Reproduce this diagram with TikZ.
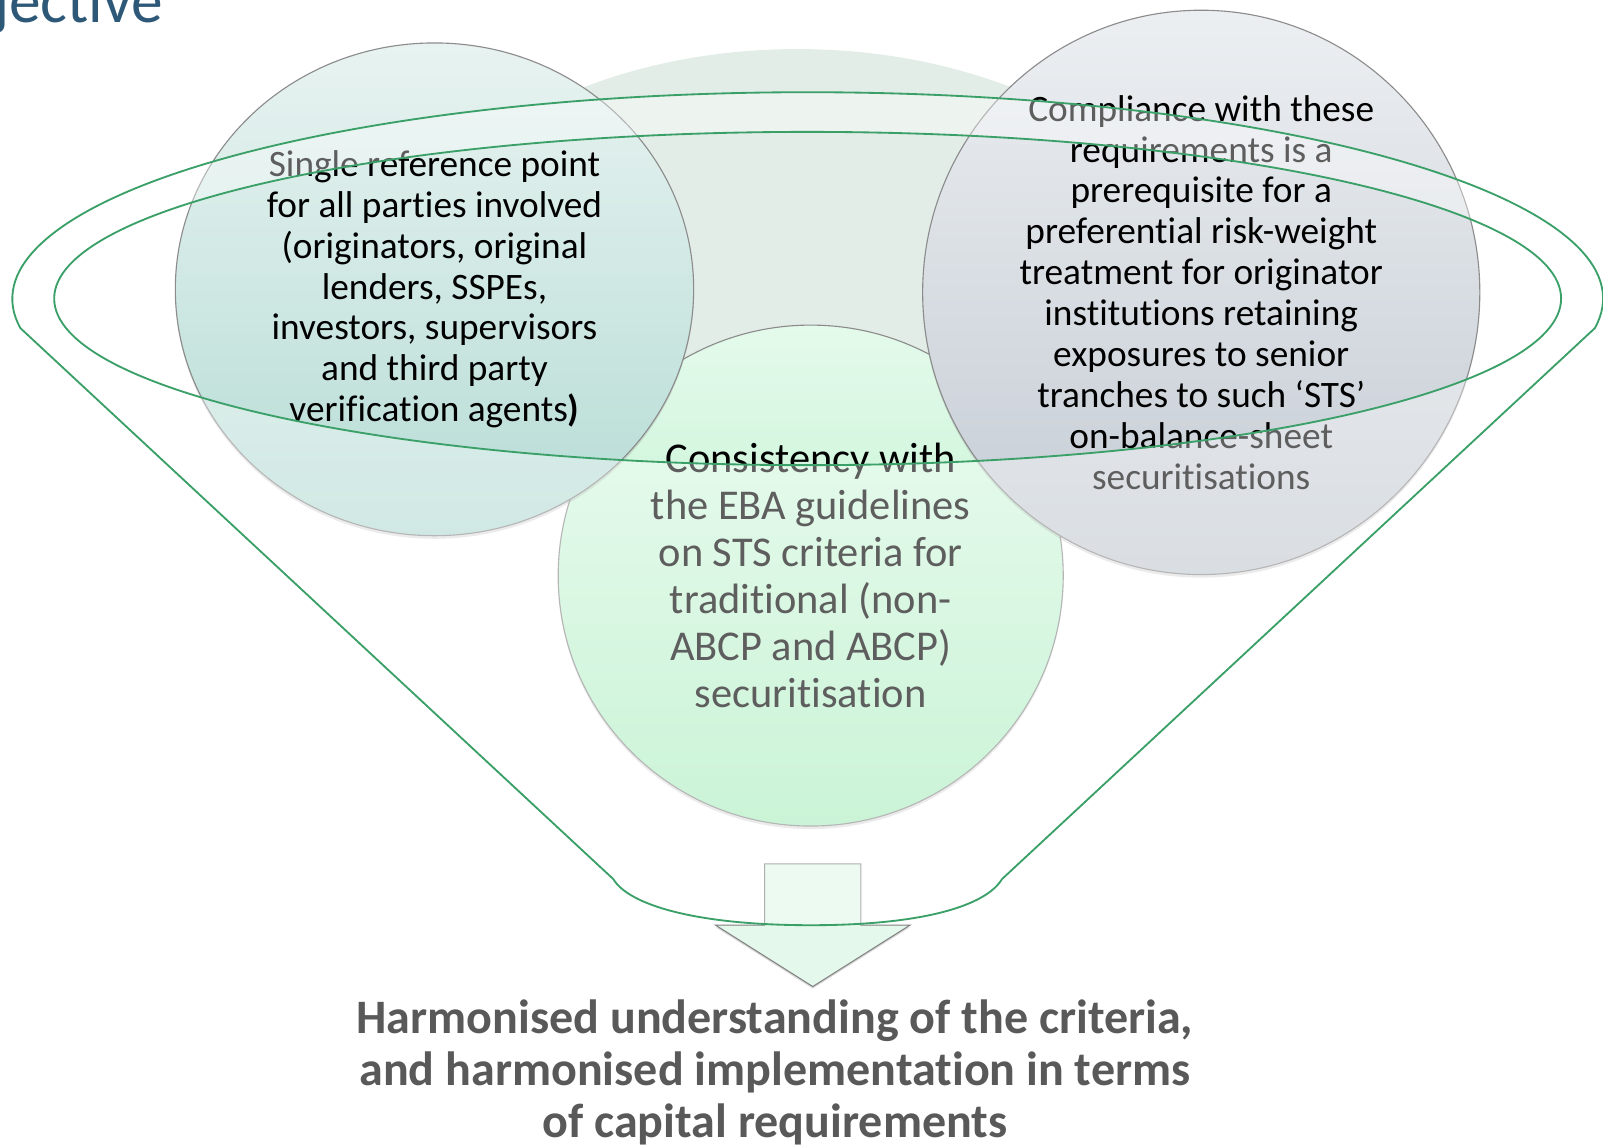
\documentclass[tikz,border=0pt]{standalone}
\usepackage{fontspec}
\setmainfont{Carlito}[Ligatures={TeX,NoCommon}]
\usetikzlibrary{shapes.geometric,shadows}

\definecolor{funnelgreen}{RGB}{58,160,104}
\definecolor{bgsoft}{RGB}{227,237,231}
\definecolor{lefttop}{RGB}{232,243,241}
\definecolor{leftbot}{RGB}{182,220,213}
\definecolor{midtop}{RGB}{228,250,235}
\definecolor{midbot}{RGB}{172,238,192}
\definecolor{righttop}{RGB}{236,239,242}
\definecolor{rightbot}{RGB}{196,203,211}
\definecolor{arrowfill}{RGB}{228,248,235}
\definecolor{outtext}{RGB}{89,89,89}
\definecolor{headblue}{RGB}{46,88,120}

\begin{document}
\begin{tikzpicture}[x=1pt,y=-1pt,
	bubble/.style={ellipse, draw=black!45, line width=1.1pt, inner sep=0pt, align=center,
		drop shadow={opacity=0.25, shadow xshift=0pt, shadow yshift=-3pt}},
	funnel/.style={draw=funnelgreen, line width=1.8pt, fill=white, fill opacity=0.37, even odd rule}]
	\useasboundingbox (0,0) rectangle (1568,1121);
	\node[anchor=base west, inner sep=0pt, text=headblue, font=\fontsize{62}{64}\selectfont] (heading) at (-6,22) {jective};
	\begin{scope}
		\clip (0,0) rectangle (1568,440);
		\fill[bgsoft] (780,330) ellipse [x radius=420, y radius=282];
	\end{scope}
	\node[bubble, minimum width=494pt, minimum height=490pt, top color=midtop, bottom color=midbot,
		font=\fontsize{41.5}{46}\selectfont] (consistency) at (793,563)
		{Consistency with\\the EBA guidelines\\on STS criteria for\\traditional (non-\\ABCP and ABCP)\\securitisation};
	\node[bubble, minimum width=507pt, minimum height=482pt, top color=lefttop, bottom color=leftbot,
		font=\fontsize{36.5}{40}\selectfont] (reference) at (425,283)
		{Single reference point\\for all parties involved\\(originators, original\\lenders, SSPEs,\\investors, supervisors\\and third party\\verification agents\textbf{)}};
	\node[bubble, minimum width=545pt, minimum height=552pt, top color=righttop, bottom color=rightbot,
		font=\fontsize{36.5}{40}\selectfont] (compliance) at (1175,286)
		{Compliance with these\\requirements is a\\prerequisite for a\\preferential risk-weight\\treatment for originator\\institutions retaining\\exposures to senior\\tranches to such `STS'\\on-balance-sheet\\securitisations};
	\draw[draw=black!50, line width=1pt, fill=arrowfill,
		drop shadow={opacity=0.3, shadow xshift=0pt, shadow yshift=-2pt}]
		(748,845) -- (842,845) -- (842,905) -- (890,905) -- (795,965) -- (700,905) -- (748,905) -- cycle;
	\path[funnel] (1560,321) arc[start angle=8.2, end angle=-188.2, x radius=778, y radius=202]
		-- (600,860) .. controls (615,885) and (680,905) .. (793,905)
		.. controls (906,905) and (965,885) .. (980,860) -- cycle
		(790,292) ellipse [x radius=737, y radius=163];
	\node[text=outtext, align=center, font=\bfseries\fontsize{47}{51}\selectfont] (outcome) at (758,1049)
		{Harmonised understanding of the criteria,\\and harmonised implementation in terms\\of capital requirements};
\end{tikzpicture}
\end{document}
